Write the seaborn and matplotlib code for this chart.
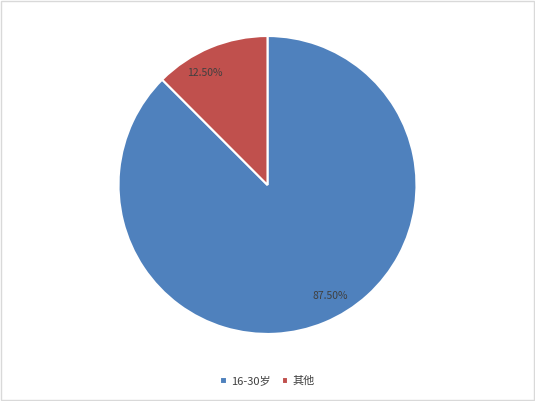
import matplotlib
matplotlib.use('Agg')
import matplotlib.pyplot as plt
import seaborn as sns
import numpy as np

# 数据
labels = ['16-30岁', '其他']
values = [87.5, 12.5]
colors = ['#4F81BD', '#C0504D']

sns.set_style('white')
plt.rcParams['font.family'] = ['Noto Sans CJK SC', 'DejaVu Sans']

fig = plt.figure(figsize=(5.35, 4.01), dpi=100)
ax = fig.add_axes([0.5 - 0.557 / 2, 0.5387 - 0.743 / 2, 0.557, 0.743])

wedges, texts, autotexts = ax.pie(values, colors=colors, startangle=90, counterclock=False,
                                  autopct='%.2f%%', pctdistance=0.86,
                                  wedgeprops=dict(edgecolor='white', linewidth=1.5),
                                  textprops=dict(color='#404040', fontsize=7.5))
ax.set_xlim(-1, 1)
ax.set_ylim(-1, 1)
ax.set_aspect('equal')

# Excel 的"最佳位置"标签，稍微偏离扇区中线
for w, t in zip(wedges, autotexts):
    mid = np.deg2rad((w.theta1 + w.theta2) / 2 + 7)
    t.set_position((0.86 * np.cos(mid), 0.86 * np.sin(mid)))

leg = fig.legend(wedges, labels, loc='center', bbox_to_anchor=(0.5, 0.05), ncol=2,
                 frameon=False, fontsize=8, handlelength=0.6, handleheight=0.6,
                 handletextpad=0.4, columnspacing=1.0, labelcolor='#404040')

# 外框
fig.patches.append(plt.Rectangle((0.002, 0.002), 0.996, 0.996, transform=fig.transFigure,
                                 fill=False, edgecolor='#D9D9D9', linewidth=1))

fig.savefig('out.png', dpi=100)
